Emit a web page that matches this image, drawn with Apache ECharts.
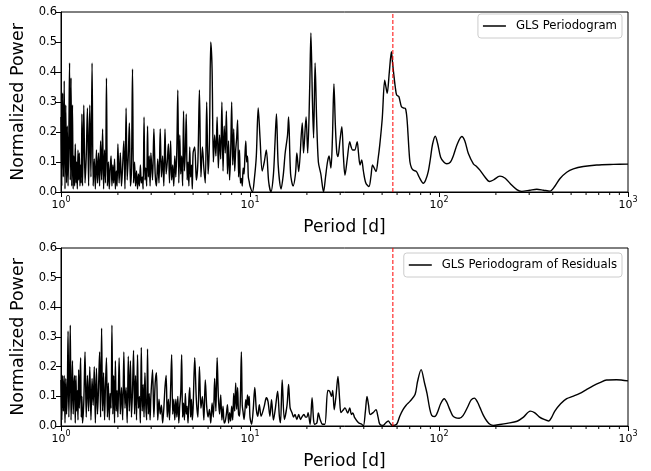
<!DOCTYPE html>
<html>
<head>
<meta charset="utf-8">
<script src="https://cdn.jsdelivr.net/npm/echarts@6/dist/echarts.min.js"></script>
<style>
  html, body { margin: 0; padding: 0; background: #fff; }
  #chart { width: 651px; height: 471px; }
</style>
</head>
<body>
<div id="chart"></div>
<script>
// GLS periodogram of the RVs: [period (d), normalized power]
const glsPower = [
  [1.00,.25],[1.01,.02],[1.02,.33],[1.03,.05],[1.04,.37],[1.05,.01],[1.06,.29],[1.07,.03],[1.08,.22],[1.09,.02],
  [1.10,.18],[1.11,.43],[1.12,.04],[1.13,.38],[1.14,.02],[1.15,.29],[1.16,.01],[1.17,.12],[1.18,.02],[1.19,.16],
  [1.20,.03],[1.21,.10],[1.22,.01],[1.23,.14],[1.24,.04],[1.25,.13],[1.26,.02],[1.27,.09],[1.28,.03],[1.29,.26],[1.30,.02],
  [1.32,.29],[1.34,.03],[1.36,.12],[1.38,.28],[1.40,.02],[1.42,.29],[1.44,.05],[1.46,.43],[1.48,.02],[1.50,.11],
  [1.52,.01],[1.54,.14],[1.56,.03],[1.58,.13],[1.60,.02],[1.62,.17],[1.64,.04],[1.66,.21],[1.68,.01],[1.70,.14],
  [1.72,.03],[1.74,.38],[1.76,.02],[1.78,.10],[1.80,.01],[1.82,.08],[1.84,.12],[1.86,.02],[1.88,.09],[1.90,.03],
  [1.92,.11],[1.94,.01],[1.96,.07],[1.98,.02],[2.00,.16],
  [2.03,.03],[2.06,.13],[2.09,.02],[2.12,.09],[2.15,.17],[2.18,.01],[2.21,.28],[2.24,.04],[2.27,.12],[2.30,.23],
  [2.33,.02],[2.36,.08],[2.39,.41],[2.42,.03],[2.45,.10],[2.48,.02],[2.51,.07],[2.54,.01],[2.57,.06],[2.60,.02],
  [2.63,.09],[2.66,.03],[2.69,.05],[2.72,.01],[2.75,.25],[2.78,.04],[2.81,.08],[2.84,.02],[2.87,.22],[2.90,.05],
  [2.93,.12],[2.96,.02],[2.99,.13],
  [3.05,.04],[3.10,.21],[3.15,.06],[3.20,.02],[3.25,.11],[3.30,.03],[3.35,.21],[3.40,.05],[3.45,.12],[3.50,.02],
  [3.55,.21],[3.60,.06],[3.65,.10],[3.70,.16],[3.75,.03],[3.80,.17],[3.85,.04],[3.90,.09],[3.95,.02],[4.00,.12],
  [4.05,.05],[4.10,.14],[4.15,.34],[4.20,.03],[4.25,.19],[4.30,.06],[4.35,.12],[4.40,.02],[4.45,.27],[4.50,.07],
  [4.55,.14],[4.60,.26],[4.65,.04],[4.70,.10],[4.75,.02],[4.80,.15],[4.85,.05],[4.90,.09],[4.95,.01],[5.00,.13],
  [5.1,.15],[5.2,.04],[5.3,.10],[5.4,.34],[5.5,.05],[5.6,.15],[5.7,.08],[5.8,.03],[5.9,.30],[6.0,.06],
  [6.1,.17],[6.2,.50],[6.3,.41],[6.4,.10],[6.5,.19],[6.6,.12],[6.7,.25],[6.8,.08],[6.9,.19],[7.0,.11],
  [7.1,.30],[7.2,.07],[7.3,.22],[7.4,.13],[7.5,.27],[7.6,.06],[7.7,.17],[7.8,.04],[7.9,.13],[8.0,.30],
  [8.1,.09],[8.2,.21],[8.3,.07],[8.4,.14],[8.5,.18],[8.6,.24],[8.7,.05],[8.8,.14],[8.9,.03],[9.0,.045],
  [9.1,.02],[9.2,.08],[9.3,.06],[9.4,.12],[9.5,.17],[9.6,.10],[9.7,.12],[9.8,.05],[9.9,.035],[10.0,.02],
  [10.3,0],[10.55,.045],[10.8,.12],[11.05,.28],[11.3,.18],[11.6,.07],[11.9,.10],[12.2,.14],[12.55,.035],[12.9,0],
  [13.3,.057],[13.55,.16],[13.8,.26],[14.1,.09],[14.6,.01],[15.0,.057],[15.35,.13],[15.8,.19],[16.0,.25],[16.4,.06],
  [16.9,.02],[17.4,.06],[17.7,.13],[18.1,.068],[18.9,.23],[19.2,.13],[19.8,.25],[20.2,.13],
  [20.7,.35],[21.0,.53],[21.4,.30],[21.7,.18],[22.1,.43],[22.5,.25],[23.0,.10],[23.7,.06],[24.5,0],[25.1,.05],
  [25.7,.10],[26.2,.12],[26.8,.08],[27.3,.18],[27.8,.36],[28.3,.22],[28.8,.13],[29.2,.118],[29.9,.17],[30.6,.218],
  [31.2,.12],[31.8,.056],[32.7,.11],[33.7,.168],[34.3,.15],[34.9,.14],[35.8,.14],[36.9,.168],[37.5,.13],[38.2,.09],
  [39.0,.107],[39.8,.07],[41.0,.03],[42.6,.018],[43.6,.05],[44.5,.09],[45.4,.08],[46.4,.068],[47.6,.11],[48.6,.157],
  [50.1,.246],[51.6,.373],[52.4,.35],[53.2,.329],[54.6,.40],[56.0,.468],[56.8,.43],[57.7,.39],[58.7,.35],[59.7,.323],
  [61.3,.318],[63.3,.284],[64.8,.28],[66.3,.279],[67.3,.26],[68.1,.223],[69.2,.15],[70.2,.10],[71.6,.08],[73.1,.073],
  [76.0,.068],[78.5,.05],[82.6,.029],[85.0,.04],[87.7,.068],[90.0,.11],[92.5,.16],[95.6,.186],[98.5,.16],[102,.116],
  [106,.10],[110,.094],[115,.10],[119,.12],[125,.16],[132,.185],[137,.17],[143,.128],[152,.094],[158,.085],
  [165,.072],[175,.05],[185,.035],[194,.04],[210,.053],[224,.046],[238,.028],[258,.008],[274,.002],[303,.006],
  [329,.009],[357,.006],[387,.003],[411,.02],[437,.045],[474,.066],[514,.077],[580,.085],[683,.09],[836,.092],[1000,.093]
];

// GLS periodogram of the residuals
const residualPower = [
  [1.00,.155],[1.01,.02],[1.02,.17],[1.03,.05],[1.04,.17],[1.05,.01],[1.06,.16],[1.07,.04],[1.08,.12],[1.09,.32],
  [1.10,.03],[1.11,.15],[1.12,.34],[1.13,.02],[1.14,.11],[1.15,.22],[1.16,.04],[1.17,.13],[1.18,.17],[1.19,.01],
  [1.20,.17],[1.21,.05],[1.22,.12],[1.23,.02],[1.24,.19],[1.25,.06],[1.26,.14],[1.27,.23],[1.28,.03],[1.29,.10],[1.30,.01],
  [1.32,.08],[1.34,.25],[1.36,.03],[1.38,.17],[1.40,.05],[1.42,.20],[1.44,.02],[1.46,.16],[1.48,.07],[1.50,.20],
  [1.52,.01],[1.54,.195],[1.56,.04],[1.58,.13],[1.60,.25],[1.62,.03],[1.64,.33],[1.66,.05],[1.68,.18],[1.70,.02],
  [1.72,.14],[1.74,.23],[1.76,.03],[1.78,.145],[1.80,.02],[1.82,.11],[1.84,.06],[1.86,.34],[1.88,.04],[1.90,.17],
  [1.92,.01],[1.94,.22],[1.96,.05],[1.98,.12],[2.00,.03],
  [2.03,.23],[2.06,.04],[2.09,.13],[2.12,.02],[2.15,.25],[2.18,.06],[2.21,.13],[2.24,.01],[2.27,.235],[2.30,.05],
  [2.33,.22],[2.36,.03],[2.39,.12],[2.42,.255],[2.45,.04],[2.48,.17],[2.51,.02],[2.54,.24],[2.57,.06],[2.60,.10],
  [2.63,.01],[2.66,.265],[2.69,.05],[2.72,.14],[2.75,.03],[2.78,.18],[2.81,.07],[2.84,.02],[2.87,.26],[2.90,.04],
  [2.93,.11],[2.96,.02],[2.99,.10],
  [3.05,.19],[3.10,.03],[3.15,.145],[3.20,.18],[3.25,.02],[3.30,.09],[3.35,.04],[3.40,.07],[3.45,.01],[3.50,.06],
  [3.55,.13],[3.60,.17],[3.65,.03],[3.70,.09],[3.75,.02],[3.80,.12],[3.85,.24],[3.90,.04],[3.95,.09],[4.00,.02],
  [4.05,.09],[4.10,.03],[4.15,.10],[4.20,.01],[4.25,.07],[4.30,.11],[4.35,.24],[4.40,.03],[4.45,.078],[4.50,.02],
  [4.55,.11],[4.60,.04],[4.65,.067],[4.70,.01],[4.75,.09],[4.80,.13],[4.85,.03],[4.90,.09],[4.95,.02],[5.00,.06],
  [5.1,.23],[5.2,.09],[5.3,.03],[5.4,.20],[5.5,.06],[5.6,.10],[5.7,.02],[5.8,.155],[5.9,.067],[6.0,.03],
  [6.1,.056],[6.2,.01],[6.3,.078],[6.4,.03],[6.5,.16],[6.6,.05],[6.7,.23],[6.8,.10],[6.9,.04],[7.0,.105],
  [7.1,.02],[7.2,.067],[7.3,.01],[7.4,.017],[7.5,.04],[7.6,.072],[7.7,.01],[7.8,.045],[7.9,.017],[8.0,.067],
  [8.1,.02],[8.2,.11],[8.3,.05],[8.4,.145],[8.5,.056],[8.6,.13],[8.7,.04],[8.8,.033],[8.9,.10],[9.0,.25],
  [9.1,.07],[9.2,.045],[9.3,.022],[9.4,.05],[9.5,.089],[9.6,.06],[9.7,.105],[9.8,.07],[9.9,.10],[10.0,.03],
  [10.2,.006],[10.4,.056],[10.6,.13],[10.8,.056],[11.0,.033],[11.2,.072],[11.45,.033],[11.9,.067],[12.2,.095],[12.45,.083],
  [12.75,.033],[13.0,.089],[13.3,.02],[13.6,.056],[14.0,.117],[14.3,.033],[14.5,.011],[14.8,.155],[15.2,.022],[15.7,.07],
  [16.0,.14],[16.3,.061],[16.7,.044],[17.0,.03],[17.3,.039],[17.7,.022],[18.1,.039],[18.5,.022],[18.8,.03],[19.3,.039],
  [19.7,.03],[20.0,.03],[20.3,.045],[20.8,.006],[21.3,.095],[21.7,.02],[22.0,.006],[22.6,.011],[23.0,.044],[23.5,.022],
  [24.2,.006],[24.9,.006],[25.8,.12],[26.4,.117],[27.0,.10],[27.4,.12],[27.9,.055],[28.5,.10],[29.2,.167],[29.8,.09],
  [30.3,.045],[31.2,.055],[31.8,.061],[32.9,.044],[33.7,.061],[34.4,.039],[35.0,.044],[35.8,.028],[37.5,.011],[39.0,.006],
  [39.8,0],[40.8,.05],[41.6,.10],[42.4,.07],[43.2,.039],[44.8,.045],[46.4,.055],[47.6,.03],[48.6,.006],[50.5,.002],
  [52.2,.01],[53.9,.017],[55.3,.008],[56.6,.002],[59.7,.006],[62.0,.033],[64.5,.055],[67.0,.07],[70.2,.083],[74.7,.106],
  [77.0,.15],[80.4,.19],[83.9,.144],[86.4,.11],[89.2,.06],[91.5,.036],[95.0,.032],[98.0,.045],[102,.075],[106.6,.092],
  [110,.08],[114,.056],[118,.035],[122,.028],[128,.026],[134,.035],[142,.065],[148,.088],[154,.094],[160,.08],
  [165,.061],[172,.035],[179,.017],[186,.006],[194,.002],[210,.005],[229,.009],[259,.016],[280,.03],[304,.05],
  [320,.045],[339,.031],[360,.022],[381,.017],[395,.03],[410,.05],[440,.075],[474,.092],[510,.10],[556,.11],
  [600,.122],[653,.135],[710,.146],[770,.155],[870,.156],[1000,.152]
];

const minorTicks = [2,3,4,5,6,7,8,9,20,30,40,50,60,70,80,90,200,300,400,500,600,700,800,900];
const markedPeriod = 57;
const seriesNames = ['GLS Periodogram', 'GLS Periodogram of Residuals'];

const FONT = 'DejaVu Sans';
const RED = 'rgb(255,0,0)';
const chart = echarts.init(document.getElementById('chart'));

function xAxisFor(idx) {
  return {
    type: 'log', logBase: 10, min: 1, max: 1000, gridIndex: idx,
    name: 'Period [d]', nameLocation: 'middle', nameGap: 27,
    nameTextStyle: { fontSize: 17, color: '#000', fontFamily: FONT },
    axisLine: { show: true, lineStyle: { color: '#000', width: 1 } },
    axisTick: { show: true, length: 5, lineStyle: { color: '#000' } },
    splitLine: { show: false },
    axisLabel: {
      margin: 4,
      formatter: v => '{b|10}{s|' + Math.round(Math.log10(v)) + '}',
      rich: {
        b: { fontSize: 11, fontFamily: FONT, color: '#000', verticalAlign: 'bottom', lineHeight: 15 },
        s: { fontSize: 8, fontFamily: FONT, color: '#000', verticalAlign: 'top', lineHeight: 15 }
      }
    }
  };
}

function yAxisFor(idx) {
  return {
    type: 'value', min: 0, max: 0.6, interval: 0.1, gridIndex: idx,
    name: 'Normalized Power', nameLocation: 'middle', nameGap: 33,
    nameTextStyle: { fontSize: 17.5, color: '#000', fontFamily: FONT },
    axisLine: { show: true, lineStyle: { color: '#000', width: 1 } },
    axisTick: { show: true, length: 5, lineStyle: { color: '#000' } },
    splitLine: { show: false },
    axisLabel: { fontSize: 11.5, color: '#000', fontFamily: FONT, margin: 4, formatter: v => v.toFixed(1) }
  };
}

function legendFor(name, top) {
  return {
    data: [name], right: 29, top: top,
    icon: 'rect', itemWidth: 23, itemHeight: 1.5,
    backgroundColor: 'rgba(255,255,255,0.8)', borderColor: '#cccccc', borderWidth: 1, borderRadius: 3,
    padding: [6, 5, 6, 5],
    textStyle: { fontSize: 11.7, color: '#000', fontFamily: FONT, padding: [0, 0, 0, 5] }
  };
}

function periodogram(name, data, idx) {
  return {
    name: name, type: 'line', xAxisIndex: idx, yAxisIndex: idx,
    data: data, showSymbol: false, symbol: 'none', color: '#000',
    smooth: 0.3,
    itemStyle: { color: '#000' },
    lineStyle: { color: '#000', width: 1.4 }
  };
}

// log-axis minor ticks (2..9 per decade), placed through the axis scale
function minorTickMarks(idx) {
  return {
    type: 'custom', xAxisIndex: idx, yAxisIndex: idx, silent: true, clip: false, z: 5,
    data: minorTicks.map(v => [v, 0]),
    renderItem: (params, api) => {
      const p = api.coord([api.value(0), 0]);
      return { type: 'line', shape: { x1: p[0], y1: p[1], x2: p[0], y2: p[1] + 3 },
               style: { stroke: '#000', lineWidth: 1 } };
    }
  };
}

// red dashed vertical line at the detected period, spanning the y range
function periodMarker(idx) {
  return {
    type: 'custom', xAxisIndex: idx, yAxisIndex: idx, silent: true, z: 4,
    data: [[markedPeriod]],
    renderItem: (params, api) => {
      const lo = api.coord([api.value(0), 0]);
      const hi = api.coord([api.value(0), 0.6]);
      return { type: 'line', shape: { x1: lo[0], y1: lo[1], x2: hi[0], y2: hi[1] },
               style: { stroke: RED, lineWidth: 1, lineDash: [4, 2], fill: null } };
    }
  };
}

chart.setOption({
  animation: false,
  textStyle: { fontFamily: FONT },
  grid: [
    { left: 61, width: 567, top: 12, height: 180, show: true, borderColor: '#000', borderWidth: 1 },
    { left: 61, width: 567, top: 248, height: 180, show: true, borderColor: '#000', borderWidth: 1 }
  ],
  legend: [legendFor(seriesNames[0], 14), legendFor(seriesNames[1], 253)],
  xAxis: [xAxisFor(0), xAxisFor(1)],
  yAxis: [yAxisFor(0), yAxisFor(1)],
  series: [
    periodogram(seriesNames[0], glsPower, 0),
    periodogram(seriesNames[1], residualPower, 1),
    minorTickMarks(0),
    minorTickMarks(1),
    periodMarker(0),
    periodMarker(1)
  ]
});
</script>
</body>
</html>
